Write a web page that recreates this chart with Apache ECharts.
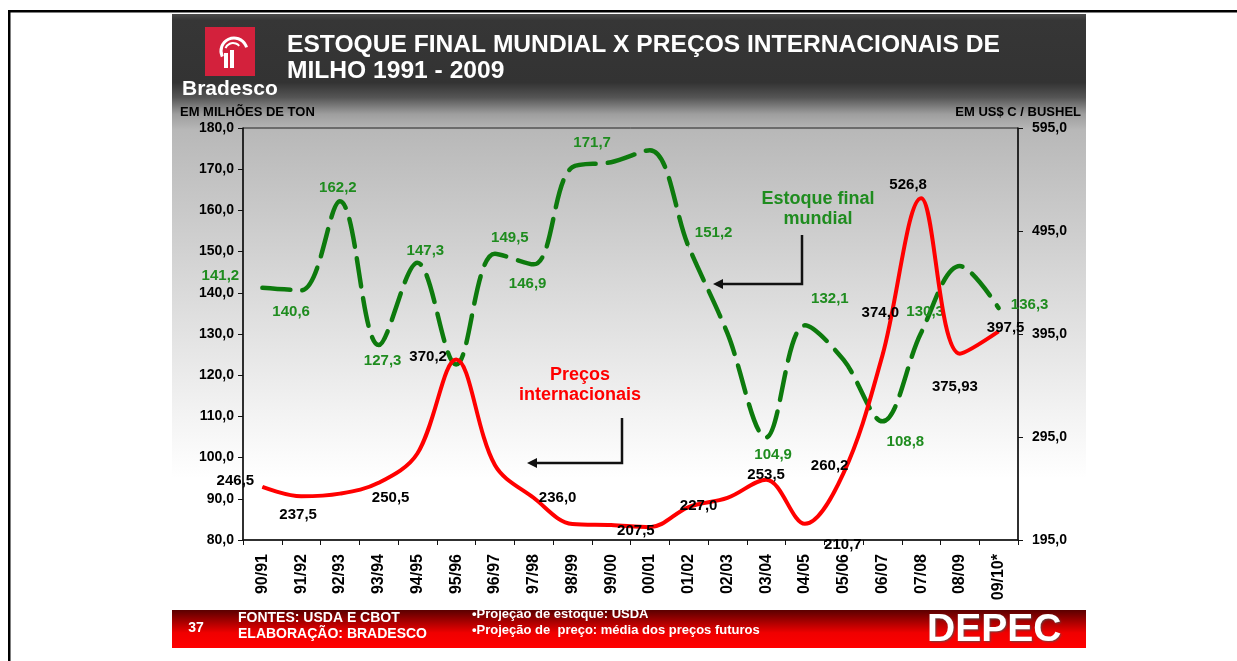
<!DOCTYPE html>
<html>
<head>
<meta charset="utf-8">
<title>Estoque final mundial x preços internacionais de milho</title>
<script src="https://cdn.jsdelivr.net/npm/echarts@6/dist/echarts.min.js"></script>
<style>
  html, body { margin: 0; padding: 0; background: #fff; }
  #chart { width: 1237px; height: 661px; }
</style>
</head>
<body>
<div id="chart"></div>
<script>
// Data
const categories = ['90/91', '91/92', '92/93', '93/94', '94/95', '95/96', '96/97', '97/98', '98/99', '99/00',
  '00/01', '01/02', '02/03', '03/04', '04/05', '05/06', '06/07', '07/08', '08/09', '09/10*'];

// Estoque final mundial (milhões de ton) - left axis
const estoqueFinal = [141.2, 140.6, 162.2, 127.3, 147.3, 122.6, 149.5, 146.9, 170.5, 171.7,
  174.6, 151.2, 130.2, 104.9, 132.1, 123.7, 108.8, 130.3, 146.5, 136.3];

// Preços internacionais (US$ c / bushel) - right axis
const precos = [246.5, 237.5, 240.0, 250.5, 279.0, 370.2, 267.8, 236.0, 210.5, 209.5,
  207.5, 227.0, 235.8, 253.5, 210.7, 260.2, 374.0, 526.8, 375.93, 397.5];

const leftTicks = { min: 80, max: 180, interval: 10 };
const rightTicks = { min: 195, max: 595, interval: 100 };

// Which points carry a value label, and where it sits (offset from the point)
const estoqueLabelOffsets = {
  0: [-42, -12], 1: [-10, 22], 2: [-2, -13], 3: [4, 16], 4: [8, -12], 6: [15, -16], 7: [-6, 19],
  9: [-19, -19], 11: [25, -14], 13: [7, 17], 14: [25, -26], 16: [23, 21], 17: [4, -21], 19: [31, -3]
};
const precoLabelOffsets = {
  0: [-27, -6], 1: [-3, 19], 3: [12, 15], 5: [-28, -3], 7: [24, 0], 10: [-14, 4], 11: [10, -1],
  13: [0, -5], 14: [38, 21], 15: [-14, -7], 16: [-2, -43], 17: [-13, -13], 18: [-5, 33], 19: [7, -4]
};

const FONT = "'Liberation Sans', Arial, sans-serif";
const GREEN_LINE = '#0d7a0d';
const GREEN_TEXT = '#1f8c1f';
const RED = '#ff0000';

function fmt(v) {
  return (Math.round(v * 10) === v * 10 ? v.toFixed(1) : v.toFixed(2)).replace('.', ',');
}

function buildPoints(values, offsets, color) {
  return values.map((v, i) => {
    const off = offsets[i];
    return {
      value: v,
      label: off ? {
        show: true,
        position: 'inside',
        offset: off,
        color: color,
        fontFamily: FONT,
        fontWeight: 'bold',
        fontSize: 15,
        formatter: p => fmt(p.value)
      } : { show: false }
    };
  });
}

const chart = echarts.init(document.getElementById('chart'), null, { renderer: 'canvas' });

// Arrow helper for the two annotation callouts
function arrow(x0, y0, yTurn, xTip) {
  return [
    { type: 'polyline', z: 50, shape: { points: [[x0, y0], [x0, yTurn], [xTip + 8, yTurn]] },
      style: { stroke: '#111', lineWidth: 2.5, fill: null } },
    { type: 'polygon', z: 50, shape: { points: [[xTip, yTurn], [xTip + 10, yTurn - 5], [xTip + 10, yTurn + 5]] },
      style: { fill: '#111' } }
  ];
}

const options = {
  backgroundColor: '#ffffff',
  animation: false,
  grid: {
    left: 243, right: 219, top: 128, bottom: 121,
    show: true, borderColor: '#222', borderWidth: 1, backgroundColor: 'transparent'
  },
  xAxis: {
    type: 'category',
    data: categories,
    boundaryGap: true,
    axisLine: { lineStyle: { color: '#111', width: 1.5 } },
    axisTick: { show: true, length: 5, lineStyle: { color: '#111' } },
    axisLabel: {
      interval: 0, rotate: 90, margin: 14,
      color: '#000', fontFamily: FONT, fontWeight: 'bold', fontSize: 16
    },
    splitLine: { show: false }
  },
  yAxis: [
    {
      type: 'value',
      min: leftTicks.min, max: leftTicks.max, interval: leftTicks.interval,
      axisLine: { show: true, lineStyle: { color: '#111', width: 1.5 } },
      axisTick: { show: true, length: 5, lineStyle: { color: '#111' } },
      axisLabel: { margin: 9, color: '#000', fontFamily: FONT, fontWeight: 'bold', fontSize: 14,
        formatter: v => v.toFixed(1).replace('.', ',') },
      splitLine: { show: false }
    },
    {
      type: 'value',
      min: rightTicks.min, max: rightTicks.max, interval: rightTicks.interval,
      position: 'right',
      axisLine: { show: true, lineStyle: { color: '#111', width: 1.5 } },
      axisTick: { show: true, length: 5, lineStyle: { color: '#111' } },
      axisLabel: { margin: 14, color: '#000', fontFamily: FONT, fontWeight: 'bold', fontSize: 14,
        formatter: v => v.toFixed(1).replace('.', ',') },
      splitLine: { show: false }
    }
  ],
  series: [
    {
      name: 'Estoque final mundial',
      type: 'line',
      yAxisIndex: 0,
      data: buildPoints(estoqueFinal, estoqueLabelOffsets, GREEN_TEXT),
      smooth: 0.35,
      symbol: 'circle', symbolSize: 1, showSymbol: true,
      itemStyle: { color: GREEN_LINE },
      lineStyle: { color: GREEN_LINE, width: 4.5, type: [28, 12], cap: 'round' },
      z: 3
    },
    {
      name: 'Preços internacionais',
      type: 'line',
      yAxisIndex: 1,
      data: buildPoints(precos, precoLabelOffsets, '#000'),
      smooth: 0.35,
      symbol: 'circle', symbolSize: 1, showSymbol: true,
      itemStyle: { color: RED },
      lineStyle: { color: RED, width: 4 },
      z: 4
    }
  ],
  graphic: [
    // page frame
    { type: 'rect', z: -20, shape: { x: 8, y: 10, width: 1240, height: 2.5 }, style: { fill: '#000' } },
    { type: 'rect', z: -20, shape: { x: 8, y: 10, width: 2.5, height: 660 }, style: { fill: '#000' } },
    // slide background: dark header fading into the grey/white chart area
    {
      type: 'rect', z: -10, shape: { x: 172, y: 14, width: 914, height: 596 },
      style: {
        fill: new echarts.graphic.LinearGradient(0, 0, 0, 1, [
          { offset: 0, color: '#4a4a4a' },
          { offset: 0.01, color: '#363636' },
          { offset: 0.115, color: '#333333' },
          { offset: 0.14, color: '#555555' },
          { offset: 0.168, color: '#9e9e9e' },
          { offset: 0.195, color: '#b8b8b8' },
          { offset: 0.45, color: '#d8d8d8' },
          { offset: 0.68, color: '#f4f4f4' },
          { offset: 0.78, color: '#ffffff' },
          { offset: 1, color: '#ffffff' }
        ])
      }
    },
    // footer bar
    {
      type: 'rect', z: -10, shape: { x: 172, y: 610, width: 914, height: 38 },
      style: {
        fill: new echarts.graphic.LinearGradient(0, 0, 0, 1, [
          { offset: 0, color: '#5a0000' },
          { offset: 0.6, color: '#f00000' },
          { offset: 1, color: '#ff0000' }
        ])
      }
    },
    // Bradesco logo
    { type: 'rect', z: 10, shape: { x: 205, y: 27, width: 50, height: 49 }, style: { fill: '#d3213c' } },
    { type: 'arc', z: 11, shape: { cx: 234, cy: 51, r: 13, startAngle: 2.7, endAngle: 6.0 },
      style: { stroke: '#fff', lineWidth: 3, fill: null } },
    { type: 'arc', z: 11, shape: { cx: 233, cy: 51, r: 8, startAngle: 3.5, endAngle: 5.6 },
      style: { stroke: '#fff', lineWidth: 2, fill: null } },
    { type: 'rect', z: 11, shape: { x: 224, y: 53, width: 4, height: 15 }, style: { fill: '#fff' } },
    { type: 'rect', z: 11, shape: { x: 230, y: 50, width: 4, height: 18 }, style: { fill: '#fff' } },
    { type: 'text', z: 11, x: 182, y: 100,
      style: { text: 'Bradesco', fill: '#fff', font: "bold 21px " + FONT, textVerticalAlign: 'bottom' } },
    // title
    { type: 'text', z: 11, x: 287, y: 45,
      style: { text: 'ESTOQUE FINAL MUNDIAL X PREÇOS INTERNACIONAIS DE', fill: '#fff',
        font: "bold 24.6px " + FONT, textVerticalAlign: 'middle' } },
    { type: 'text', z: 11, x: 287, y: 71,
      style: { text: 'MILHO 1991 - 2009', fill: '#fff', font: "bold 24.6px " + FONT, textVerticalAlign: 'middle' } },
    // axis units
    { type: 'text', z: 11, x: 180, y: 112,
      style: { text: 'EM MILHÕES DE TON', fill: '#000', font: "bold 13px " + FONT, textVerticalAlign: 'middle' } },
    { type: 'text', z: 11, x: 1081, y: 112,
      style: { text: 'EM US$ C / BUSHEL', fill: '#000', font: "bold 13px " + FONT,
        textAlign: 'right', textVerticalAlign: 'middle' } },
    // series annotations
    { type: 'text', z: 50, x: 818, y: 209,
      style: { text: 'Estoque final\nmundial', fill: GREEN_TEXT, font: "bold 18px " + FONT,
        textAlign: 'center', textVerticalAlign: 'middle', lineHeight: 20 } },
    { type: 'text', z: 50, x: 580, y: 385,
      style: { text: 'Preços\ninternacionais', fill: RED, font: "bold 18px " + FONT,
        textAlign: 'center', textVerticalAlign: 'middle', lineHeight: 20 } },
    ...arrow(802, 235, 284, 713),
    ...arrow(622, 418, 463, 527),
    // footer texts
    { type: 'text', z: 11, x: 196, y: 628,
      style: { text: '37', fill: '#fff', font: "bold 14px " + FONT, textAlign: 'center', textVerticalAlign: 'middle' } },
    { type: 'text', z: 11, x: 238, y: 618,
      style: { text: 'FONTES: USDA E CBOT', fill: '#fff', font: "bold 14px " + FONT, textVerticalAlign: 'middle' } },
    { type: 'text', z: 11, x: 238, y: 634,
      style: { text: 'ELABORAÇÃO: BRADESCO', fill: '#fff', font: "bold 14px " + FONT, textVerticalAlign: 'middle' } },
    { type: 'text', z: 11, x: 472, y: 614,
      style: { text: '•Projeção de estoque: USDA', fill: '#fff', font: "bold 13px " + FONT, textVerticalAlign: 'middle' } },
    { type: 'text', z: 11, x: 472, y: 630,
      style: { text: '•Projeção de  preço: média dos preços futuros', fill: '#fff', font: "bold 13px " + FONT,
        textVerticalAlign: 'middle' } },
    { type: 'text', z: 11, x: 927, y: 630,
      style: { text: 'DEPEC', fill: '#fff', font: "bold 39px " + FONT, textVerticalAlign: 'middle',
        textShadowColor: 'rgba(80,80,80,0.8)', textShadowBlur: 2, textShadowOffsetX: 1, textShadowOffsetY: 1 } }
  ]
};

chart.setOption(options);

window.addEventListener('resize', () => {
  chart.resize();
});
</script>
</body>
</html>
